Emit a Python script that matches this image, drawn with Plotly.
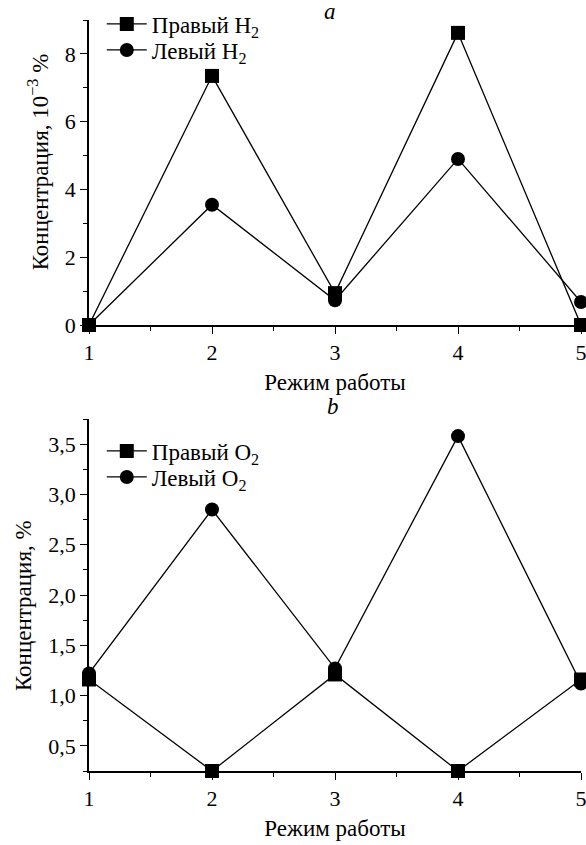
import plotly.graph_objects as go

modes = [1, 2, 3, 4, 5]
h2_right = [0.0, 7.35, 0.94, 8.62, 0.0]
h2_left = [0.0, 3.55, 0.73, 4.9, 0.68]
o2_right = [1.16, 0.25, 1.21, 0.25, 1.16]
o2_left = [1.22, 2.85, 1.27, 3.58, 1.12]

FONT = "Liberation Serif, Times New Roman, serif"
FS = 23
TFS = 22

# plot area in pixels (figure coordinates)
PT, PB = 20, 771
PH = PB - PT


def py(p):
    return (PB - p) / PH


fig = go.Figure()


def add(x, y, name, sym, xa, ya, leg):
    fig.add_trace(go.Scatter(
        x=x, y=y, name=name, mode="lines+markers",
        line=dict(color="black", width=1.3),
        marker=dict(symbol=sym, size=14, color="black"),
        xaxis=xa, yaxis=ya, legend=leg, cliponaxis=False,
    ))


add(modes, h2_right, "Правый H<sub>2</sub>", "square", "x", "y", "legend")
add(modes, h2_left, "Левый H<sub>2</sub>", "circle", "x", "y", "legend2")
add(modes, o2_right, "Правый O<sub>2</sub>", "square", "x2", "y2", "legend3")
add(modes, o2_left, "Левый O<sub>2</sub>", "circle", "x2", "y2", "legend4")

axis_common = dict(
    showline=True, linecolor="black", linewidth=1.6, mirror=False,
    ticks="outside", ticklen=7, tickwidth=1.4, tickcolor="black",
    showgrid=False, zeroline=False, automargin=False,
    ticklabeloverflow="allow",
    tickfont=dict(family=FONT, size=TFS, color="black"),
)

xcommon = dict(axis_common, range=[1, 5], tickvals=[1, 2, 3, 4, 5],
               minor=dict(ticks="outside", ticklen=4, tickwidth=1.4, tickcolor="black", dtick=0.5, tick0=1),
               title=dict(text="Режим работы", font=dict(family=FONT, size=FS, color="black"), standoff=10))


def leg(ypix):
    return dict(x=0.026, y=py(ypix), xanchor="left", yanchor="middle", bgcolor="rgba(0,0,0,0)",
                font=dict(family=FONT, size=FS, color="black"), itemwidth=40)


fig.update_layout(
    width=586, height=845,
    margin=dict(l=89, r=5, t=PT, b=845 - PB, autoexpand=False),
    paper_bgcolor="white", plot_bgcolor="white",
    separators=", ",
    font=dict(family=FONT, size=FS, color="black"),
    showlegend=True,
    xaxis=dict(xcommon, domain=[0, 1], anchor="y"),
    yaxis=dict(axis_common, domain=[py(325), 1], anchor="x", range=[0, 9],
               tickvals=[0, 2, 4, 6, 8],
               minor=dict(ticks="outside", ticklen=4, tickwidth=1.4, tickcolor="black", dtick=1, tick0=0)),
    xaxis2=dict(xcommon, domain=[0, 1], anchor="y2"),
    yaxis2=dict(axis_common, domain=[0, py(419)], anchor="x2", range=[0.25, 3.75],
                tickvals=[0.5, 1.0, 1.5, 2.0, 2.5, 3.0, 3.5], tickformat=".1f",
                minor=dict(ticks="outside", ticklen=4, tickwidth=1.4, tickcolor="black", dtick=0.25, tick0=0.25)),
    legend=leg(24),
    legend2=leg(50),
    legend3=leg(451),
    legend4=leg(477),
    annotations=[
        dict(text="<i>a</i>", xref="paper", yref="paper", x=0.49, y=py(12), showarrow=False,
             xanchor="center", yanchor="middle",
             font=dict(family=FONT, size=FS, color="black")),
        dict(text="<i>b</i>", xref="paper", yref="paper", x=0.496, y=py(407), showarrow=False,
             xanchor="center", yanchor="middle",
             font=dict(family=FONT, size=FS, color="black")),
        dict(text="Концентрация, 10<sup>−3</sup> %", xref="paper", yref="paper",
             x=-0.103, y=py(162), textangle=-90, showarrow=False,
             xanchor="center", yanchor="middle",
             font=dict(family=FONT, size=FS, color="black")),
        dict(text="Концентрация, %", xref="paper", yref="paper",
             x=-0.134, y=py(606), textangle=-90, showarrow=False,
             xanchor="center", yanchor="middle",
             font=dict(family=FONT, size=FS, color="black")),
    ],
)

fig.write_html("out.html", config={"displayModeBar": False},
               post_script="document.body.style.margin='0';document.body.style.padding='0';")
